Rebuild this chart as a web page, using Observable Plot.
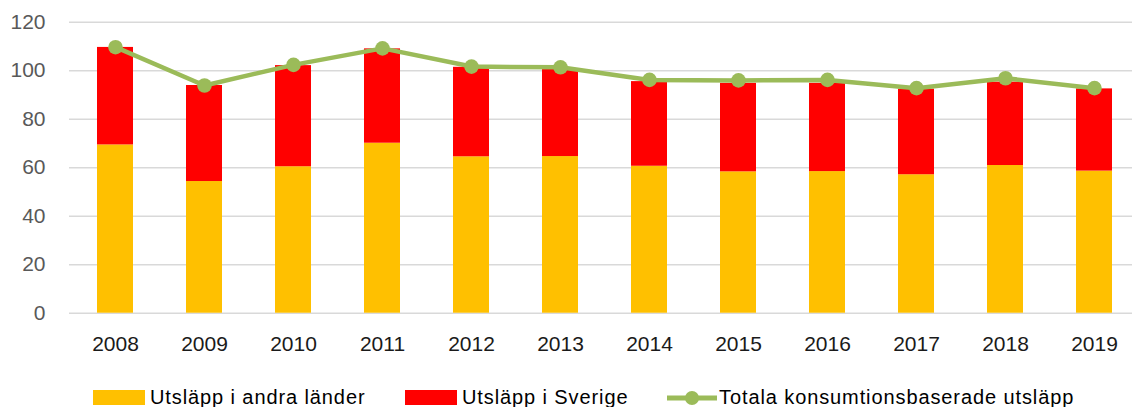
<!DOCTYPE html>
<html>
<head>
<meta charset="utf-8">
<script src="https://cdn.jsdelivr.net/npm/d3@7"></script>
<script src="https://cdn.jsdelivr.net/npm/@observablehq/plot@0.6"></script>
<style>
  html, body { margin: 0; padding: 0; background: #fff; }
  body { width: 1132px; height: 407px; position: relative; overflow: hidden; font-family: "Liberation Sans", Arial, sans-serif; }
  #legend { position: absolute; left: 0; top: 0; width: 1132px; height: 407px; pointer-events: none; }
  .item { position: absolute; top: 386px; display: flex; align-items: center; font-size: 20px; letter-spacing: 0.9px; color: #000; white-space: nowrap; }
  .sw { width: 52px; height: 15px; margin-right: 5px; }
</style>
</head>
<body>
<div id="chart"></div>
<div id="legend"></div>
<script>
const years = ["2008","2009","2010","2011","2012","2013","2014","2015","2016","2017","2018","2019"];
const andraLander = [69.4, 54.3, 60.4, 70.1, 64.5, 64.6, 60.6, 58.3, 58.4, 57.1, 60.9, 58.6];
const sverige = [40.2, 39.6, 41.7, 38.9, 36.9, 36.2, 34.9, 36.5, 36.4, 35.3, 34.4, 33.9];
const totala = [109.7, 93.9, 102.4, 109.2, 101.7, 101.4, 96.2, 96.0, 96.2, 92.8, 96.9, 92.8];
const seriesNames = ["Utsläpp i andra länder", "Utsläpp i Sverige", "Totala konsumtionsbaserade utsläpp"];
const colors = ["#FFC000", "#FF0000", "#9BBB59"];
const yTicks = [0, 20, 40, 60, 80, 100, 120];

const stacked = [];
years.forEach((y, i) => {
  stacked.push({year: y, series: seriesNames[0], value: andraLander[i]});
  stacked.push({year: y, series: seriesNames[1], value: sverige[i]});
});
const totalRows = years.map((y, i) => ({year: y, value: totala[i]}));

const chart = Plot.plot({
  width: 1132,
  height: 370,
  marginTop: 21.7,
  marginBottom: 57.3,
  marginLeft: 69,
  marginRight: 0,
  style: {fontFamily: "'Liberation Sans', Arial, sans-serif", fontSize: "21px", background: "#fff"},
  x: {type: "band", domain: years, range: [69, 1139], paddingInner: 0.6, paddingOuter: 0.3},
  y: {domain: [0, 120]},
  color: {domain: seriesNames.slice(0, 2), range: colors.slice(0, 2)},
  marks: [
    Plot.gridY(yTicks, {stroke: "#d9d9d9", strokeOpacity: 1, strokeWidth: 1.5}),
    Plot.barY(stacked, {x: "year", y: "value", fill: "series", order: seriesNames.slice(0, 2)}),
    Plot.line(totalRows, {x: "year", y: "value", stroke: colors[2], strokeWidth: 4.5}),
    Plot.dot(totalRows, {x: "year", y: "value", fill: colors[2], r: 7.3}),
    Plot.axisY(yTicks, {tickSize: 0, tickPadding: 24, fill: "#595959", fontSize: 21, label: null}),
    Plot.axisX({tickSize: 0, tickPadding: 23, fill: "#1a1a1a", fontSize: 21, label: null})
  ]
});
document.getElementById("chart").appendChild(chart);

const legend = document.getElementById("legend");
const lefts = [93, 405, 667];
seriesNames.forEach((name, i) => {
  const item = document.createElement("div");
  item.className = "item";
  item.style.left = lefts[i] + "px";
  if (i < 2) {
    const sw = document.createElement("div");
    sw.className = "sw";
    sw.style.background = colors[i];
    item.appendChild(sw);
  } else {
    const ns = "http://www.w3.org/2000/svg";
    const s = document.createElementNS(ns, "svg");
    s.setAttribute("width", 50); s.setAttribute("height", 16);
    s.style.marginRight = "2px";
    const l = document.createElementNS(ns, "line");
    l.setAttribute("x1", 0); l.setAttribute("x2", 50); l.setAttribute("y1", 8); l.setAttribute("y2", 8);
    l.setAttribute("stroke", colors[2]); l.setAttribute("stroke-width", 5);
    const c = document.createElementNS(ns, "circle");
    c.setAttribute("cx", 25); c.setAttribute("cy", 8); c.setAttribute("r", 7);
    c.setAttribute("fill", colors[2]);
    s.appendChild(l); s.appendChild(c);
    item.appendChild(s);
  }
  const t = document.createElement("span");
  t.textContent = name;
  item.appendChild(t);
  legend.appendChild(item);
});
</script>
</body>
</html>
